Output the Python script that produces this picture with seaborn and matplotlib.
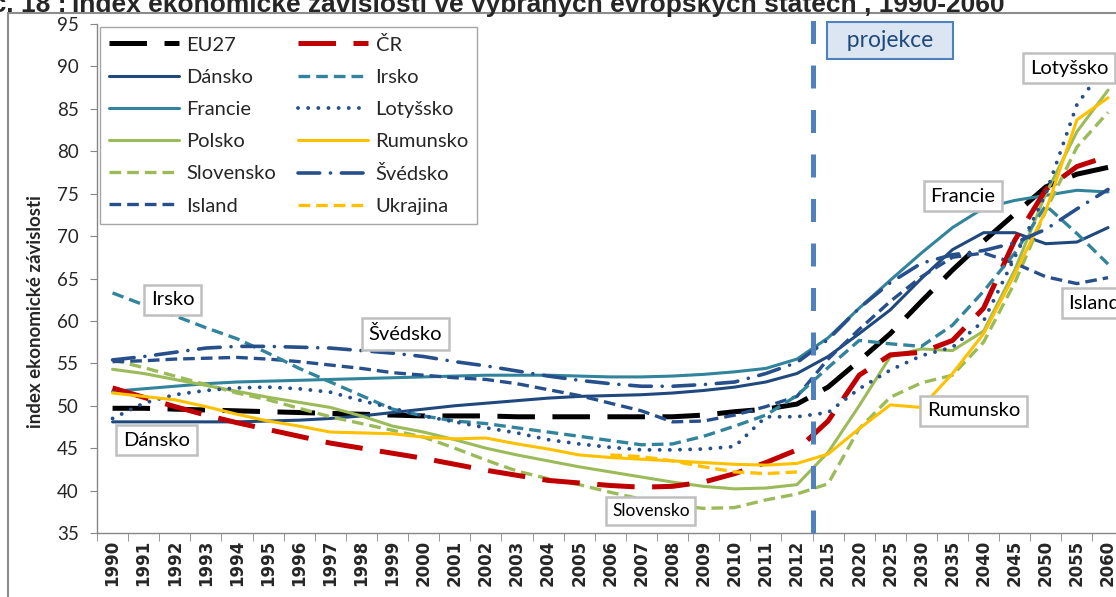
import matplotlib.pyplot as plt
from matplotlib.patches import Rectangle
import numpy as np
import pandas as pd
import seaborn as sns

years = [str(y) for y in range(1990, 2013)] + [str(y) for y in range(2015, 2061, 5)]

eu27 = [49.7, 49.7, 49.6, 49.5, 49.4, 49.3, 49.2, 49.1, 49.0, 48.9, 48.8, 48.8, 48.8, 48.7, 48.7, 48.7, 48.7, 48.7, 48.7, 48.9, 49.3, 49.6, 50.2,
        52.2, 55.3, 58.5, 62.3, 66.0, 69.4, 72.6, 75.8, 77.3, 78.1]
cr = [52.1, 51.0, 49.9, 48.9, 48.0, 47.2, 46.4, 45.6, 45.0, 44.4, 43.8, 43.1, 42.4, 41.8, 41.2, 40.9, 40.6, 40.4, 40.5, 41.0, 42.0, 43.3, 44.8,
      48.2, 53.6, 56.0, 56.3, 57.7, 61.5, 69.5, 75.5, 78.2, 79.4]
dansko = [48.1, 48.1, 48.1, 48.1, 48.1, 48.2, 48.3, 48.5, 48.8, 49.2, 49.6, 50.0, 50.3, 50.6, 50.9, 51.1, 51.2, 51.3, 51.5, 51.8, 52.2, 52.8, 53.8,
          55.8, 58.5, 61.3, 65.0, 68.4, 70.4, 70.4, 69.1, 69.3, 71.0]
irsko = [63.3, 61.9, 60.6, 59.2, 57.9, 56.2, 54.4, 52.8, 51.2, 49.6, 48.8, 48.2, 47.9, 47.4, 46.9, 46.4, 45.9, 45.4, 45.5, 46.4, 47.6, 48.9, 51.2,
         54.5, 57.7, 57.3, 57.0, 59.5, 63.5, 68.0, 73.6, 70.3, 66.7]
francie = [51.7, 52.0, 52.3, 52.6, 52.8, 52.9, 53.0, 53.1, 53.2, 53.3, 53.4, 53.5, 53.6, 53.6, 53.6, 53.5, 53.4, 53.4, 53.5, 53.7, 54.0, 54.4, 55.5,
           58.0, 61.5, 64.8, 68.0, 71.0, 73.3, 74.2, 74.8, 75.4, 75.2]
lotyssko = [48.5, 50.3, 51.3, 51.8, 52.1, 52.2, 52.0, 51.6, 50.6, 49.7, 48.8, 48.1, 47.4, 46.8, 46.0, 45.5, 45.1, 44.8, 44.8, 44.9, 45.2, 48.7, 48.7,
            49.2, 52.0, 54.2, 55.9, 56.9, 60.0, 67.5, 75.0, 85.5, 90.5]
polsko = [54.3, 53.8, 53.1, 52.4, 51.7, 51.0, 50.4, 49.8, 48.8, 47.6, 46.9, 46.0, 45.0, 44.2, 43.5, 42.8, 42.2, 41.6, 41.0, 40.5, 40.2, 40.3, 40.7,
          44.5, 50.0, 55.8, 56.7, 56.5, 58.8, 66.0, 75.0, 82.3, 87.2]
rumunsko = [51.5, 51.1, 50.7, 49.9, 49.0, 48.2, 47.6, 46.9, 46.8, 46.7, 46.3, 46.1, 46.2, 45.5, 44.9, 44.2, 43.9, 43.7, 43.5, 43.3, 43.1, 43.0, 43.2,
            44.3, 47.3, 50.1, 49.8, 53.8, 58.5, 65.5, 73.0, 83.7, 86.3]
slovensko = [55.4, 54.5, 53.5, 52.5, 51.5, 50.7, 49.7, 48.7, 47.9, 47.1, 46.3, 45.0, 43.6, 42.3, 41.4, 40.7, 39.8, 39.0, 38.3, 37.9, 38.0, 38.9, 39.6,
             40.8, 47.3, 51.0, 52.7, 53.6, 57.5, 64.5, 73.0, 80.5, 84.6]
svedsko = [55.4, 55.8, 56.3, 56.8, 57.0, 57.0, 56.9, 56.8, 56.5, 56.2, 55.8, 55.2, 54.7, 54.1, 53.5, 53.0, 52.6, 52.3, 52.3, 52.5, 52.8, 53.8, 55.1,
           57.8, 61.5, 64.5, 66.8, 67.8, 68.3, 69.2, 70.8, 73.2, 75.5]
island = [55.2, 55.3, 55.5, 55.6, 55.7, 55.5, 55.2, 54.8, 54.4, 53.9, 53.6, 53.3, 53.1, 52.6, 51.9, 51.2, 50.3, 49.4, 48.1, 48.2, 48.9, 49.9, 51.1,
          55.5, 59.0, 62.3, 65.2, 67.5, 68.0, 66.8, 65.2, 64.4, 65.1]
ukrajina = [None] * 16 + [44.2, 44.0, 43.5, 42.8, 42.2, 42.0, 42.2] + [None] * 10

sns.set_style("white")
plt.rcParams['font.family'] = ['Lato', 'DejaVu Sans']

navy = "#1F497D"
blue = "#264F8C"
teal = "#31849B"
green = "#9BBB59"
gold = "#FFC000"
red = "#C00000"

longdash = (0, (7.5, 3.5))
short = (0, (3.5, 1.8))
dotted = (0, (0.01, 2.6))
dashdot = (0, (6, 3, 0.01, 3))

series = [
    ("EU27", eu27, "black", 3.6, longdash),
    ("Dánsko", dansko, navy, 2.2, "-"),
    ("Francie", francie, teal, 2.2, "-"),
    ("Polsko", polsko, green, 2.2, "-"),
    ("Slovensko", slovensko, green, 2.4, short),
    ("Island", island, blue, 2.4, short),
    ("ČR", cr, red, 3.6, longdash),
    ("Irsko", irsko, teal, 2.4, short),
    ("Lotyšsko", lotyssko, blue, 2.8, dotted),
    ("Rumunsko", rumunsko, gold, 2.2, "-"),
    ("Švédsko", svedsko, blue, 2.6, dashdot),
    ("Ukrajina", ukrajina, gold, 2.4, short),
]

fig = plt.figure(figsize=(11.16, 5.97), dpi=100)
ax = fig.add_axes([97 / 1116, 64 / 597, 1026.6 / 1116, 509 / 597])

pos = np.arange(len(years))
handles = []
for name, vals, color, lw, ls in series:
    df = pd.DataFrame({"x": pos, "y": pd.to_numeric(pd.Series(vals), errors="coerce")}).dropna()
    sns.lineplot(data=df, x="x", y="y", color=color, linewidth=lw, linestyle=ls, ax=ax, legend=False)
    line = ax.lines[-1]
    line.set_label(name)
    if ls == dotted or ls == dashdot:
        line.set_dash_capstyle("round")
    handles.append(line)

ax.set_xlim(-0.5, len(years) - 0.5)
ax.set_ylim(35, 95)
ax.set_xlabel("")
ax.set_ylabel("")

ax.set_xticks(pos)
ax.set_xticklabels(years, rotation=90, fontfamily="DejaVu Sans", fontweight="bold", fontsize=12)
ax.set_xticks(np.arange(-0.5, len(years), 1), minor=True)
ax.tick_params(axis="x", which="major", length=0, pad=5)
ax.tick_params(axis="x", which="minor", length=6, color="#868686", direction="out", bottom=True)
ax.set_yticks(range(35, 96, 5))
ax.tick_params(axis="y", length=5, color="#868686", labelsize=13.5, pad=8, left=True, direction="out")

for s in ["top", "right"]:
    ax.spines[s].set_visible(False)
for s in ["left", "bottom"]:
    ax.spines[s].set_color("#868686")
    ax.spines[s].set_linewidth(1)

# projection boundary between 2012 and 2015
ax.axvline(22.5, ymin=0, ymax=1.02, color="#4F81BD", lw=3.6, dashes=(4.6, 4.3), clip_on=False, zorder=3)
ax.text(25.0, 93.1, "  projekce  ", ha="center", va="center", fontsize=16.5, color="#1F497D", zorder=6,
        bbox=dict(boxstyle="square,pad=0.35", fc="#DCE6F2", ec="#4F81BD", lw=1.5))

box = dict(boxstyle="square,pad=0.33", fc="white", ec="#BFBFBF", lw=1.8)
labels = [
    ("Irsko", 1.93, 62.5, 14.5),
    ("Švédsko", 9.42, 58.45, 14.5),
    ("Dánsko", 1.41, 45.96, 14.5),
    ("Slovensko", 17.3, 37.6, 12.5),
    ("Francie", 27.33, 74.72, 14.5),
    ("Lotyšsko", 30.74, 89.8, 14.5),
    ("Island", 31.55, 62.1, 14.5),
    ("Rumunsko", 27.68, 49.4, 14.5),
]
for txt, x, y, fs in labels:
    ax.text(x, y, txt, ha="center", va="center", fontsize=fs, color="black", zorder=6, bbox=box, clip_on=False)

leg = ax.legend(handles=handles, ncol=2, loc="upper left", bbox_to_anchor=(0.003, 0.994), borderaxespad=0,
                frameon=True, fancybox=False, edgecolor="#A6A6A6", fontsize=14.5, handlelength=3.5,
                handletextpad=0.35, columnspacing=1.1, labelspacing=0.75, borderpad=0.42, framealpha=1)
leg.get_frame().set_linewidth(1.0)
leg.set_zorder(7)

fig.text(36 / 1116, 1 - 312 / 597, "index ekonomické závislosti", rotation=90, ha="center", va="center",
         fontsize=13.5, fontweight="bold")

fig.text(72 / 1116, 1 - 12 / 597, "Index ekonomické závislosti ve vybraných evropských státech , 1990-2060",
         ha="left", va="baseline", fontsize=19, fontweight="bold", family="Liberation Sans")
fig.text(66 / 1116, 1 - 12 / 597, "Graf č. 18 :", ha="right", va="baseline", fontsize=19, fontweight="bold",
         family="Liberation Sans")

fig.add_artist(Rectangle((8 / 1116, -0.05), 1.2, (597 - 13) / 597 + 0.05, transform=fig.transFigure,
                         fill=False, ec="#8C8C8C", lw=1.5))

fig.savefig("out.png", dpi=100)
